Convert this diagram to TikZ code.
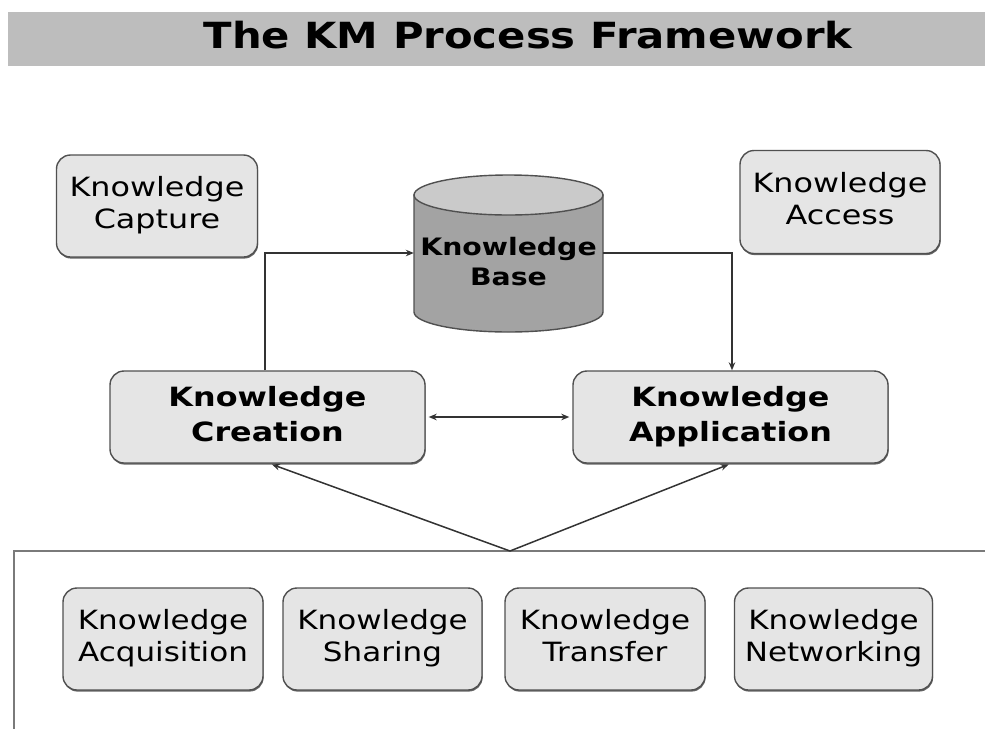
\documentclass[tikz,border=0pt]{standalone}
\usepackage{fontspec}
\setmainfont{DejaVu Sans}
\usepackage{graphicx}
\usetikzlibrary{arrows.meta,shadows}
\definecolor{boxfill}{HTML}{E5E5E5}
\definecolor{boxline}{HTML}{505050}
\definecolor{barfill}{HTML}{BDBDBD}
\definecolor{cylbody}{HTML}{A3A3A3}
\definecolor{cyltop}{HTML}{CACACA}
\definecolor{linecol}{HTML}{333333}
\definecolor{framecol}{HTML}{7A7A7A}
\newcommand\wtxt[2]{\scalebox{#1}[1]{\begin{tabular}{@{}c@{}}#2\end{tabular}}}
\begin{document}
\begin{tikzpicture}[x=1pt,y=-1pt,
  kbox/.style={draw=boxline, line width=1.4pt, fill=boxfill, rounded corners=14pt, inner sep=0pt,
    drop shadow={shadow xshift=0.6pt, shadow yshift=-1.6pt, fill=black!60, opacity=1}},
  regtxt/.style={font=\fontsize{26.5}{32}\selectfont},
  boldtxt/.style={font=\fontsize{26.5}{35}\selectfont\bfseries},
  tip/.tip={Stealth[length=8pt,width=6.5pt]},
  arr/.style={draw=linecol, line width=1.5pt, -tip},
  darr/.style={draw=linecol, line width=1.5pt, tip-tip},
  frame/.style={draw=framecol, line width=2.2pt},
]
\useasboundingbox (0,0) rectangle (985,729);

% title bar
\fill[barfill] (8,12) rectangle (985,66);
\node[font=\fontsize{36}{40}\selectfont\bfseries] (title) at (528,40) {\wtxt{1.16}{The KM Process Framework}};

% top side boxes
\node[kbox, regtxt, minimum width=201pt, minimum height=102pt] (cap) at (157,206) {\wtxt{1.2}{Knowledge\\Capture}};
\node[kbox, regtxt, minimum width=200pt, minimum height=103pt] (acc) at (840,202) {\wtxt{1.2}{Knowledge\\Access}};

% knowledge base cylinder
\filldraw[fill=cylbody, draw=boxline, line width=1.4pt]
  (414,195) -- (414,312) arc[start angle=180, end angle=0, x radius=94.5, y radius=20] -- (603,195) -- cycle;
\filldraw[fill=cyltop, draw=boxline, line width=1.4pt] (508.5,195) ellipse[x radius=94.5, y radius=20];
\node[font=\fontsize{24}{30}\selectfont\bfseries, minimum width=189pt, minimum height=120pt, inner sep=0pt] (kb) at (508.5,264) {\wtxt{1.18}{Knowledge\\Base}};

% creation / application
\node[kbox, boldtxt, minimum width=315pt, minimum height=92pt] (cre) at (267.5,417) {\wtxt{1.2}{Knowledge\\Creation}};
\node[kbox, boldtxt, minimum width=315pt, minimum height=92pt] (app) at (730.5,417) {\wtxt{1.2}{Knowledge\\Application}};

% bottom boxes
\node[kbox, regtxt, minimum width=200pt, minimum height=102pt] (acq) at (163,639) {\wtxt{1.17}{Knowledge\\Acquisition}};
\node[kbox, regtxt, minimum width=199pt, minimum height=102pt] (sha) at (382.5,639) {\wtxt{1.17}{Knowledge\\Sharing}};
\node[kbox, regtxt, minimum width=200pt, minimum height=102pt] (tra) at (605,639) {\wtxt{1.17}{Knowledge\\Transfer}};
\node[kbox, regtxt, minimum width=198pt, minimum height=102pt] (net) at (833.5,639) {\wtxt{1.17}{Knowledge\\Networking}};

% frame around the lower group
\coordinate (hub) at (510,551);
\coordinate (fr) at (985,551);
\coordinate (fc) at (14,551);
\coordinate (fb) at (14,729);
\draw[frame] (fr) -- (fc) -- (fb);

% connectors
\draw[arr] ([xshift=-2.5pt]cre.north) |- ([yshift=11pt]kb.west);
\draw[arr] ([yshift=11pt]kb.east) -| ([xshift=1.5pt]app.north);
\draw[darr, shorten <=3pt, shorten >=3pt] (cre.east) -- (app.west);
\draw[arr, shorten >=2pt] (hub) -- ([xshift=2.5pt]cre.south);
\draw[arr, shorten >=2pt] (hub) -- (app.south);
\end{tikzpicture}
\end{document}
